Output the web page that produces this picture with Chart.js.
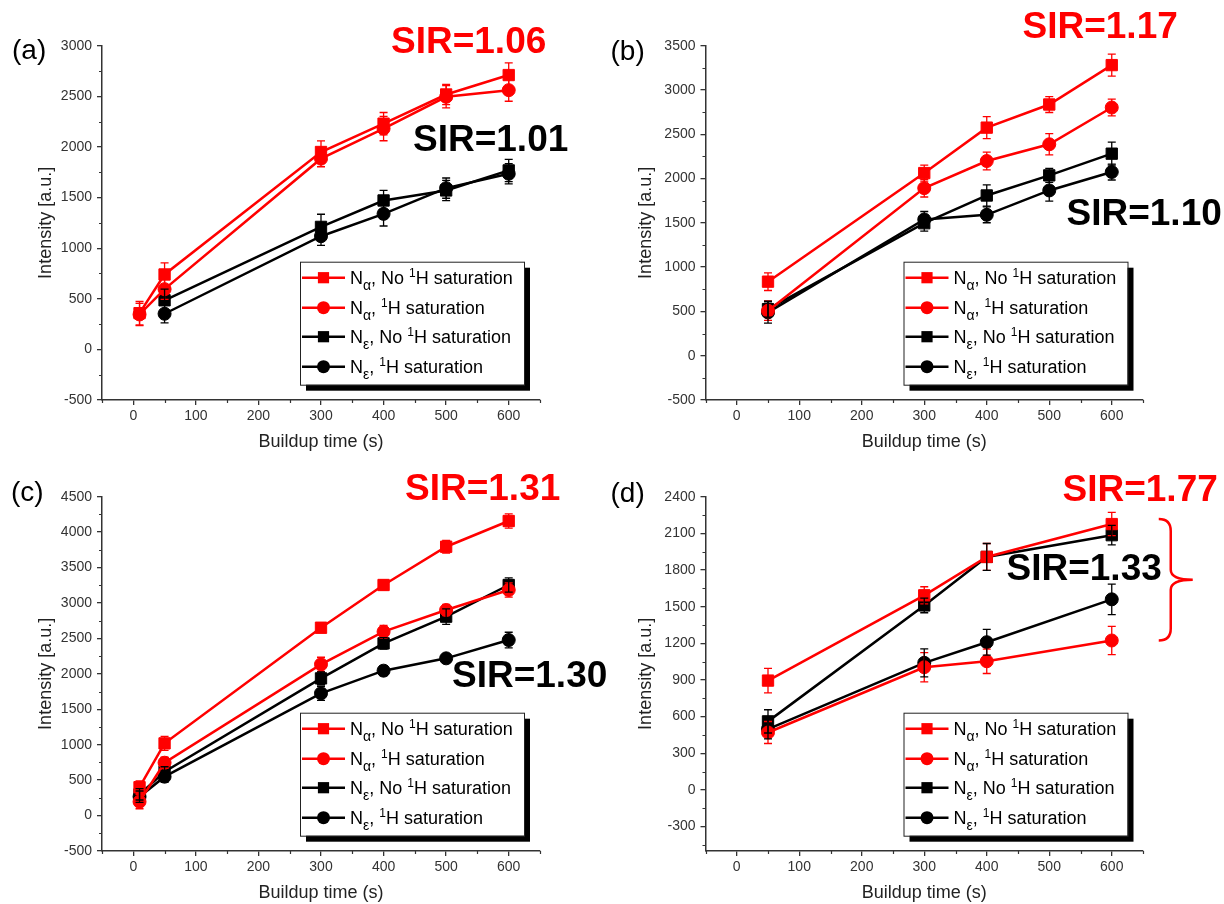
<!DOCTYPE html>
<html>
<head>
<meta charset="utf-8">
<title>SIR buildup curves</title>
<script src="https://cdn.jsdelivr.net/npm/chart.js@4.4.1/dist/chart.umd.min.js"></script>
<style>
    html, body { margin: 0; padding: 0; background: #fff; }
    #wrap { position: relative; width: 1224px; height: 904px; overflow: hidden; }
    #wrap canvas { position: absolute; left: 0; top: 0; }
</style>
</head>
<body>
<div id="wrap">
    <canvas id="chart-a" width="1224" height="904"></canvas>
    <canvas id="chart-b" width="1224" height="904"></canvas>
    <canvas id="chart-c" width="1224" height="904"></canvas>
    <canvas id="chart-d" width="1224" height="904"></canvas>
</div>
<script>
// ---- data ----
// legend text: "_x" = subscript x, "^x" = superscript x
const seriesLabels = ['N_α, No ^1H saturation', 'N_α, ^1H saturation', 'N_ε, No ^1H saturation', 'N_ε, ^1H saturation'];

const xMajorTicks = [0, 100, 200, 300, 400, 500, 600];
const yTicksA = [-500, 0, 500, 1000, 1500, 2000, 2500, 3000];
const yTicksB = [-500, 0, 500, 1000, 1500, 2000, 2500, 3000, 3500];
const yTicksC = [-500, 0, 500, 1000, 1500, 2000, 2500, 3000, 3500, 4000, 4500];
const yTicksD = [-300, 0, 300, 600, 900, 1200, 1500, 1800, 2100, 2400];

// (a)
const timesA = [10, 50, 300, 400, 500, 600];
const timesAEps = [50, 300, 400, 500, 600];
const aAlphaNo = [358, 740, 1950, 2230, 2518, 2710];
const aAlphaNoErr = [115, 115, 110, 110, 100, 120];
const aAlphaSat = [345, 595, 1884, 2181, 2495, 2561];
const aAlphaSatErr = [110, 100, 80, 120, 110, 110];
const aEpsNo = [485, 1210, 1471, 1570, 1768];
const aEpsNoErr = [110, 125, 100, 100, 110];
const aEpsSat = [352, 1118, 1339, 1593, 1735];
const aEpsSatErr = [90, 90, 120, 100, 100];

// (b)
const timesB = [50, 300, 400, 500, 600];
const bAlphaNo = [836, 2062, 2575, 2836, 3281];
const bAlphaNoErr = [100, 90, 125, 90, 125];
const bAlphaSat = [508, 1892, 2198, 2387, 2802];
const bAlphaSatErr = [110, 100, 100, 120, 95];
const bEpsNo = [526, 1496, 1809, 2036, 2281];
const bEpsNoErr = [90, 90, 120, 80, 130];
const bEpsSat = [489, 1538, 1591, 1866, 2074];
const bEpsSatErr = [120, 90, 90, 120, 90];

// (c)
const timesC = [10, 50, 300, 400, 500, 600];
const cAlphaNo = [400, 1019, 2651, 3254, 3794, 4157];
const cAlphaNoErr = [90, 100, 60, 70, 90, 100];
const cAlphaSat = [196, 746, 2134, 2595, 2901, 3183];
const cAlphaSatErr = [100, 80, 100, 90, 80, 100];
const cEpsNo = [300, 619, 1936, 2430, 2807, 3254];
const cEpsNoErr = [80, 70, 90, 80, 110, 100];
const cEpsSat = [267, 549, 1725, 2045, 2219, 2477];
const cEpsSatErr = [80, 80, 100, 70, 60, 110];

// (d)
const timesD = [50, 300, 400, 600];
const dAlphaNo = [895, 1593, 1907, 2176];
const dAlphaNoErr = [100, 70, 110, 95];
const dAlphaSat = [470, 1004, 1053, 1223];
const dAlphaSatErr = [90, 120, 100, 115];
const dEpsNo = [561, 1510, 1907, 2085];
const dEpsNoErr = [95, 60, 110, 80];
const dEpsSat = [498, 1040, 1209, 1560];
const dEpsSatErr = [80, 115, 105, 125];

// ---- styles ----
const RED = '#ff0000';
const BLACK = '#000000';
const AXIS_COLOR = '#333333';
const FONT = '"Liberation Sans", Arial, sans-serif';
const TICK_SIZE = 14;
const TITLE_SIZE = 18;
const seriesColors = [RED, RED, BLACK, BLACK];
const seriesMarkers = ['rect', 'circle', 'rect', 'circle'];

Chart.defaults.font.family = FONT;

const panels = [
    {
        id: 'chart-a', letter: '(a)', plot: [102, 45.7, 540, 400], yTitleX: 46, xTitleY: 442,
        yMin: -500, yMax: 3000, yMajor: yTicksA, yMinor: 250,
        series: [
            { x: timesA, y: aAlphaNo, err: aAlphaNoErr },
            { x: timesA, y: aAlphaSat, err: aAlphaSatErr },
            { x: timesAEps, y: aEpsNo, err: aEpsNoErr },
            { x: timesAEps, y: aEpsSat, err: aEpsSatErr }
        ],
        sir: [
            { text: 'SIR=1.06', color: RED, dx: 289, dy: -3 },
            { text: 'SIR=1.01', color: BLACK, dx: 311, dy: 95 }
        ],
        letterPos: [-90, 6]
    },
    {
        id: 'chart-b', letter: '(b)', plot: [705.5, 45.7, 1143, 400], yTitleX: 646, xTitleY: 442,
        yMin: -500, yMax: 3500, yMajor: yTicksB, yMinor: 250,
        series: [
            { x: timesB, y: bAlphaNo, err: bAlphaNoErr },
            { x: timesB, y: bAlphaSat, err: bAlphaSatErr },
            { x: timesB, y: bEpsNo, err: bEpsNoErr },
            { x: timesB, y: bEpsSat, err: bEpsSatErr }
        ],
        sir: [
            { text: 'SIR=1.17', color: RED, dx: 317, dy: -18 },
            { text: 'SIR=1.10', color: BLACK, dx: 361, dy: 169 }
        ],
        letterPos: [-95, 7]
    },
    {
        id: 'chart-c', letter: '(c)', plot: [102, 496.7, 540, 851], yTitleX: 46, xTitleY: 893,
        yMin: -500, yMax: 4500, yMajor: yTicksC, yMinor: 250,
        series: [
            { x: timesC, y: cAlphaNo, err: cAlphaNoErr },
            { x: timesC, y: cAlphaSat, err: cAlphaSatErr },
            { x: timesC, y: cEpsNo, err: cEpsNoErr },
            { x: timesC, y: cEpsSat, err: cEpsSatErr }
        ],
        sir: [
            { text: 'SIR=1.31', color: RED, dx: 303, dy: -7 },
            { text: 'SIR=1.30', color: BLACK, dx: 350, dy: 180 }
        ],
        letterPos: [-91, -3]
    },
    {
        id: 'chart-d', letter: '(d)', plot: [705.5, 496.7, 1143, 851], yTitleX: 646, xTitleY: 893,
        yMin: -500, yMax: 2400, yMajor: yTicksD, yMinor: 150,
        series: [
            { x: timesD, y: dAlphaNo, err: dAlphaNoErr },
            { x: timesD, y: dAlphaSat, err: dAlphaSatErr },
            { x: timesD, y: dEpsNo, err: dEpsNoErr },
            { x: timesD, y: dEpsSat, err: dEpsSatErr }
        ],
        sir: [
            { text: 'SIR=1.77', color: RED, dx: 357, dy: -6 },
            { text: 'SIR=1.33', color: BLACK, dx: 301, dy: 73 }
        ],
        letterPos: [-95, -2],
        brace: true
    }
];

// minor + major tick values between min and max
function tickValues(min, max, step) {
    const out = [];
    const start = Math.ceil(min / step) * step;
    for (let v = start; v <= max + 1e-6; v += step) out.push(v);
    return out;
}

function drawMarker(ctx, style, x, y, color) {
    ctx.fillStyle = color;
    if (style === 'rect') {
        ctx.fillRect(x - 5.6, y - 5.6, 11.2, 11.2);
    } else {
        ctx.beginPath();
        ctx.arc(x, y, 6.5, 0, Math.PI * 2);
        ctx.fill();
    }
}

function drawRichText(ctx, text, x, y, size) {
    let cx = x;
    let i = 0;
    while (i < text.length) {
        const ch = text[i];
        if ((ch === '_' || ch === '^') && i + 1 < text.length) {
            const small = Math.round(size * (ch === '_' ? 0.78 : 0.66));
            ctx.font = `${small}px ${FONT}`;
            const dy = ch === '_' ? size * 0.32 : -size * 0.42;
            ctx.fillText(text[i + 1], cx, y + dy);
            cx += ctx.measureText(text[i + 1]).width;
            i += 2;
        } else {
            let j = i;
            while (j < text.length && text[j] !== '_' && text[j] !== '^') j++;
            const run = text.slice(i, j);
            ctx.font = `${size}px ${FONT}`;
            ctx.fillText(run, cx, y);
            cx += ctx.measureText(run).width;
            i = j;
        }
    }
}

function makeDecorPlugin(p) {
    return {
        id: 'decor',
        afterDatasetsDraw(chart) {
            // error bars
            const { ctx, scales } = chart;
            ctx.save();
            ctx.lineWidth = 1.3;
            p.series.forEach((s, i) => {
                ctx.strokeStyle = seriesColors[i];
                s.x.forEach((t, k) => {
                    const px = scales.x.getPixelForValue(t);
                    const yHi = scales.y.getPixelForValue(s.y[k] + s.err[k]);
                    const yLo = scales.y.getPixelForValue(s.y[k] - s.err[k]);
                    ctx.beginPath();
                    ctx.moveTo(px, yHi); ctx.lineTo(px, yLo);
                    ctx.moveTo(px - 4, yHi); ctx.lineTo(px + 4, yHi);
                    ctx.moveTo(px - 4, yLo); ctx.lineTo(px + 4, yLo);
                    ctx.stroke();
                });
            });
            ctx.restore();
        },
        afterDraw(chart) {
            const { ctx, chartArea, scales } = chart;
            ctx.save();

            // short minor ticks (major ticks are drawn by the axes)
            ctx.strokeStyle = AXIS_COLOR;
            ctx.lineWidth = 1.2;
            ctx.beginPath();
            scales.x.ticks.forEach(tk => {
                if (xMajorTicks.includes(tk.value)) return;
                const px = Math.round(scales.x.getPixelForValue(tk.value)) + 0.5;
                ctx.moveTo(px, chartArea.bottom);
                ctx.lineTo(px, chartArea.bottom + 3);
            });
            scales.y.ticks.forEach(tk => {
                if (p.yMajor.includes(tk.value)) return;
                const py = Math.round(scales.y.getPixelForValue(tk.value)) + 0.5;
                ctx.moveTo(chartArea.left, py);
                ctx.lineTo(chartArea.left - 3, py);
            });
            ctx.stroke();

            // legend box with drop shadow
            const lx = chartArea.left + 198, ly = chartArea.top + 216, lw = 224, lh = 123;
            ctx.fillStyle = '#000';
            ctx.fillRect(lx + 6, ly + 6, lw, lh);
            ctx.fillStyle = '#fff';
            ctx.fillRect(lx, ly, lw, lh);
            ctx.strokeStyle = '#222';
            ctx.lineWidth = 1;
            ctx.strokeRect(lx + 0.5, ly + 0.5, lw, lh);
            const rows = [16, 46, 75, 105];
            rows.forEach((ry, i) => {
                const y = ly + ry;
                ctx.strokeStyle = seriesColors[i];
                ctx.lineWidth = 2.5;
                ctx.beginPath();
                ctx.moveTo(lx + 2, y); ctx.lineTo(lx + 45, y);
                ctx.stroke();
                drawMarker(ctx, seriesMarkers[i], lx + 23.5, y, seriesColors[i]);
                ctx.fillStyle = '#000';
                ctx.textAlign = 'left';
                ctx.textBaseline = 'alphabetic';
                drawRichText(ctx, seriesLabels[i], lx + 50, y + 6.5, 18);
            });

            // SIR annotations
            ctx.textAlign = 'left';
            ctx.textBaseline = 'middle';
            ctx.font = `bold 37px ${FONT}`;
            p.sir.forEach(a => {
                ctx.fillStyle = a.color;
                ctx.fillText(a.text, chartArea.left + a.dx, chartArea.top + a.dy);
            });

            // panel letter
            ctx.fillStyle = '#000';
            ctx.font = `28px ${FONT}`;
            ctx.fillText(p.letter, chartArea.left + p.letterPos[0], chartArea.top + p.letterPos[1]);

            // curly brace spanning the two N-alpha end points
            if (p.brace) {
                const last = p.series[0].y.length - 1;
                const top = scales.y.getPixelForValue(p.series[0].y[last]) - 5;
                const bot = scales.y.getPixelForValue(p.series[1].y[last]);
                const mid = (top + bot) / 2;
                const x600 = scales.x.getPixelForValue(600);
                const hx = x600 + 47, sx = x600 + 59, tx = x600 + 81;
                ctx.strokeStyle = RED;
                ctx.lineWidth = 2.5;
                ctx.beginPath();
                ctx.moveTo(hx, top);
                ctx.quadraticCurveTo(sx, top, sx, top + 12);
                ctx.lineTo(sx, mid - 10);
                ctx.quadraticCurveTo(sx, mid, tx, mid);
                ctx.quadraticCurveTo(sx, mid, sx, mid + 10);
                ctx.lineTo(sx, bot - 12);
                ctx.quadraticCurveTo(sx, bot, hx, bot);
                ctx.stroke();
            }
            ctx.restore();
        }
    };
}

function buildChart(p) {
    const lineH = TITLE_SIZE * 1.2;
    const padLeft = p.yTitleX - lineH / 2;
    const xAxisBottom = p.xTitleY + lineH / 2;

    const datasets = p.series.map((s, i) => ({
        label: seriesLabels[i],
        data: s.x.map((t, k) => ({ x: t, y: s.y[k] })),
        borderColor: seriesColors[i],
        backgroundColor: seriesColors[i],
        pointBorderColor: seriesColors[i],
        pointBackgroundColor: seriesColors[i],
        borderWidth: 2.5,
        pointStyle: seriesMarkers[i],
        pointRadius: seriesMarkers[i] === 'rect' ? 8 : 6.5,
        pointBorderWidth: 1,
        tension: 0,
        fill: false
    }));

    const border = { display: true, color: AXIS_COLOR, width: 1.5 };

    return new Chart(document.getElementById(p.id), {
        type: 'line',
        data: { datasets },
        options: {
            responsive: false,
            animation: false,
            events: [],
            layout: {
                autoPadding: false,
                padding: { left: padLeft, top: p.plot[1], right: 1224 - p.plot[2], bottom: 904 - xAxisBottom }
            },
            plugins: { legend: { display: false }, tooltip: { enabled: false } },
            scales: {
                x: {
                    type: 'linear',
                    min: -50,
                    max: 650,
                    afterBuildTicks: sc => { sc.ticks = tickValues(-50, 650, 50).map(v => ({ value: v })); },
                    afterFit: sc => { sc.height = xAxisBottom - p.plot[3]; },
                    ticks: {
                        autoSkip: false,
                        maxRotation: 0,
                        padding: 3,
                        color: AXIS_COLOR,
                        font: { size: TICK_SIZE },
                        callback: v => xMajorTicks.includes(v) ? String(v) : ''
                    },
                    grid: {
                        drawOnChartArea: false, drawTicks: true, tickLength: 5, lineWidth: 1.3,
                        color: AXIS_COLOR,
                        tickColor: c => xMajorTicks.includes(c.tick && c.tick.value) ? AXIS_COLOR : 'rgba(0,0,0,0)'
                    },
                    border,
                    title: { display: true, text: 'Buildup time (s)', color: '#222', font: { size: TITLE_SIZE }, padding: 0 }
                },
                y: {
                    type: 'linear',
                    min: p.yMin,
                    max: p.yMax,
                    afterBuildTicks: sc => { sc.ticks = tickValues(p.yMin, p.yMax, p.yMinor).map(v => ({ value: v })); },
                    afterFit: sc => { sc.width = p.plot[0] - padLeft; },
                    ticks: {
                        autoSkip: false,
                        padding: 5,
                        color: AXIS_COLOR,
                        font: { size: TICK_SIZE },
                        callback: v => p.yMajor.includes(v) ? String(v) : ''
                    },
                    grid: {
                        drawOnChartArea: false, drawTicks: true, tickLength: 5, lineWidth: 1.3,
                        color: AXIS_COLOR,
                        tickColor: c => p.yMajor.includes(c.tick && c.tick.value) ? AXIS_COLOR : 'rgba(0,0,0,0)'
                    },
                    border,
                    title: { display: true, text: 'Intensity [a.u.]', color: '#222', font: { size: TITLE_SIZE }, padding: 0 }
                }
            }
        },
        plugins: [makeDecorPlugin(p)]
    });
}

const charts = panels.map(buildChart);
</script>
</body>
</html>
